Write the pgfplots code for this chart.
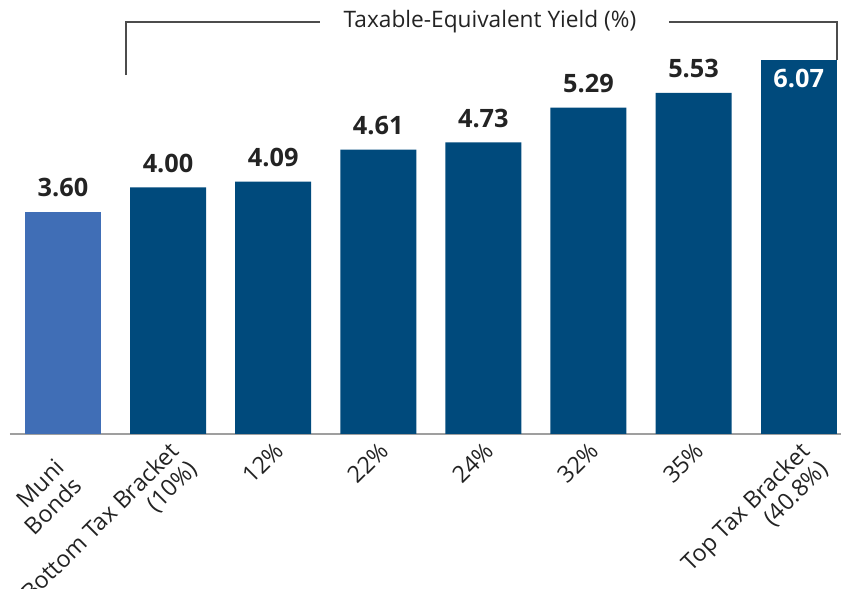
\documentclass[border=0pt]{standalone}
\usepackage{pgfplots}
\pgfplotsset{compat=1.18}
\usepackage{fontspec}
\setmainfont{Open Sans}
\definecolor{lightbar}{RGB}{64,110,182}
\definecolor{darkbar}{RGB}{0,74,124}
\definecolor{txt}{RGB}{35,35,35}
\begin{document}
\begin{tikzpicture}
\begin{axis}[
  /pgf/number format/assume math mode=true,
  x=78.825pt, y=46.25pt,
  xmin=-0.504, xmax=7.403, ymin=0, ymax=7,
  axis y line=none, axis x line*=bottom,
  x axis line style={-, draw=gray!75, line width=1.4pt},
  ybar, bar width=57pt,
  xtick={1,...,7},
  xticklabels={{Bottom Tax Bracket\\(10\%)},{12\%},{22\%},{24\%},{32\%},{35\%},{Top Tax Bracket\\(40.8\%)}},
  extra x ticks={0},
  extra x tick labels={{Muni\\Bonds}},
  extra x tick style={xticklabel style={xshift=-14pt, yshift=-4pt}},
  major tick length=0pt,
  xticklabel style={rotate=45, anchor=north east, align=right, font=\fontsize{17.5}{19}\selectfont, text=txt},
  clip=false,
  nodes near coords={\pgfmathprintnumber[fixed,fixed zerofill,precision=2,assume math mode=true]{\pgfplotspointmeta}},
  nodes near coords style={font=\bfseries\fontsize{19}{20}\selectfont, text=txt},
]
\addplot[fill=lightbar, draw=none, bar shift=0pt, nodes near coords style={yshift=7.5pt}] coordinates {(0,3.60)};
\addplot[fill=darkbar, draw=none, bar shift=0pt, nodes near coords style={yshift=7.5pt}] coordinates {(1,4.00) (2,4.09) (3,4.61) (4,4.73) (5,5.29) (6,5.53)};
\addplot[fill=darkbar, draw=none, bar shift=0pt, nodes near coords style={text=white, anchor=north, yshift=-3.5pt}] coordinates {(7,6.07)};
\draw[gray!60!black, line width=1pt] (axis cs:0.599,5.82) -- (axis cs:0.599,6.68) -- (axis cs:2.445,6.68);
\draw[gray!60!black, line width=1pt] (axis cs:5.766,6.68) -- (axis cs:7.364,6.68) -- (axis cs:7.364,6.07);
\node[font=\fontsize{17}{18}\selectfont, text=txt] at (axis cs:4.063,6.68) {Taxable-Equivalent Yield (\%)};
\coordinate (bl) at (axis cs:-0.599,-2.513);
\coordinate (tr) at (axis cs:7.403,7.037);
\end{axis}
\pgfresetboundingbox
\useasboundingbox (bl) rectangle (tr);
\end{tikzpicture}
\end{document}
